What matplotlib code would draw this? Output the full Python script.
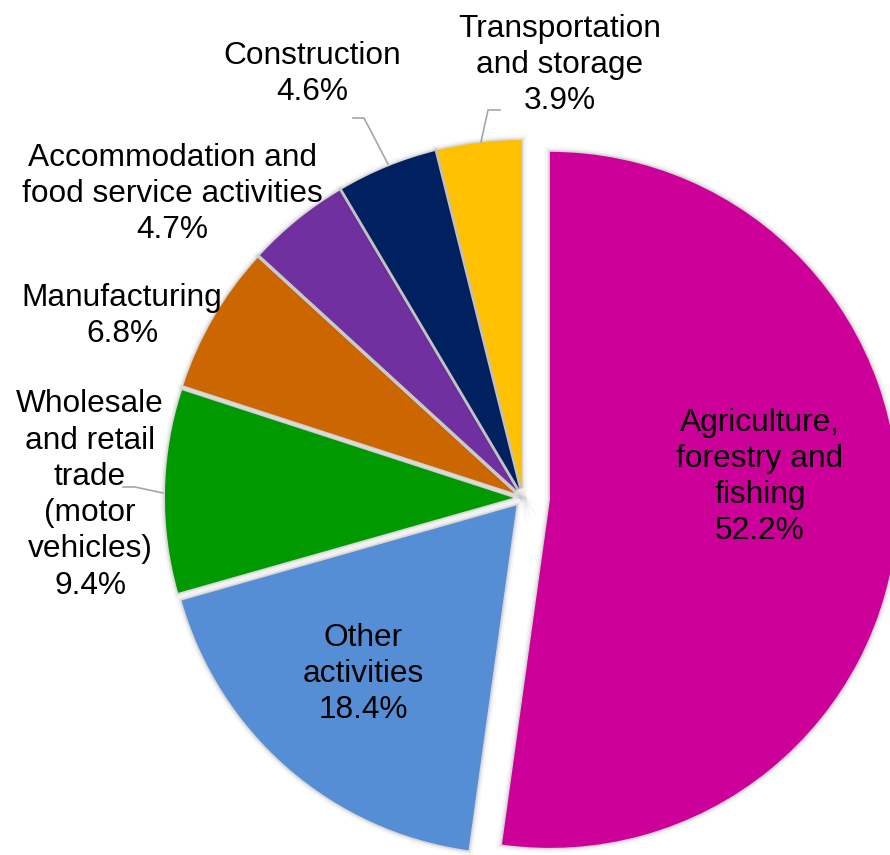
import matplotlib.pyplot as plt
import matplotlib.patheffects as pe

# sector shares of employment (%)
sectors = ['Agriculture,\nforestry and\nfishing', 'Other\nactivities',
           'Wholesale\nand retail\ntrade\n(motor\nvehicles)', 'Manufacturing',
           'Accommodation and\nfood service activities', 'Construction',
           'Transportation\nand storage']
shares = [52.2, 18.4, 9.4, 6.8, 4.7, 4.6, 3.9]
colors = ['#CC0099', '#558ED5', '#009900', '#CC6600', '#7030A0', '#002060', '#FFC000']
# pie() adds explode straight onto the centre, so these are in pixels here
explode = [27, 10, 10, 10, 10, 10, 10]

# label anchor points (pixels, y from top) and leader lines
label_pos = [(760, 477), (363, 674), (90, 495), (122, 316), (172, 194), (312, 74), (560, 65)]
leaders = {2: [(123, 487), (135, 487), (163, 493)],
           5: [(353, 118), (364, 118), (388, 164)],
           6: [(500, 110), (488, 110), (481, 142)]}

W, H = 890, 855
plt.rcParams['font.family'] = ['Liberation Sans', 'DejaVu Sans']

fig = plt.figure(figsize=(W / 100, H / 100), dpi=100)
ax = fig.add_axes([0, 0, 1, 1])

wedges, _ = ax.pie(shares, colors=colors, explode=explode, startangle=90,
                   counterclock=False, radius=348, center=(523, H - 498),
                   wedgeprops=dict(linewidth=0))
for w in wedges:
    w.set_path_effects([pe.Stroke(linewidth=7, foreground='black', alpha=0.03),
                        pe.Stroke(linewidth=4, foreground='black', alpha=0.06),
                        pe.Stroke(linewidth=2, foreground='black', alpha=0.08),
                        pe.Normal()])

for i, (name, val) in enumerate(zip(sectors, shares)):
    x, y = label_pos[i]
    ax.text(x, H - y, f'{name}\n{val:.1f}%', ha='center', va='center',
            fontsize=22.8, linespacing=1.27, color='black')

for pts in leaders.values():
    ax.plot([p[0] for p in pts], [H - p[1] for p in pts], color='#a6a6a6', lw=1.2)

ax.set_xlim(0, W)
ax.set_ylim(0, H)
ax.set_axis_off()
fig.savefig('out.png', dpi=100)
